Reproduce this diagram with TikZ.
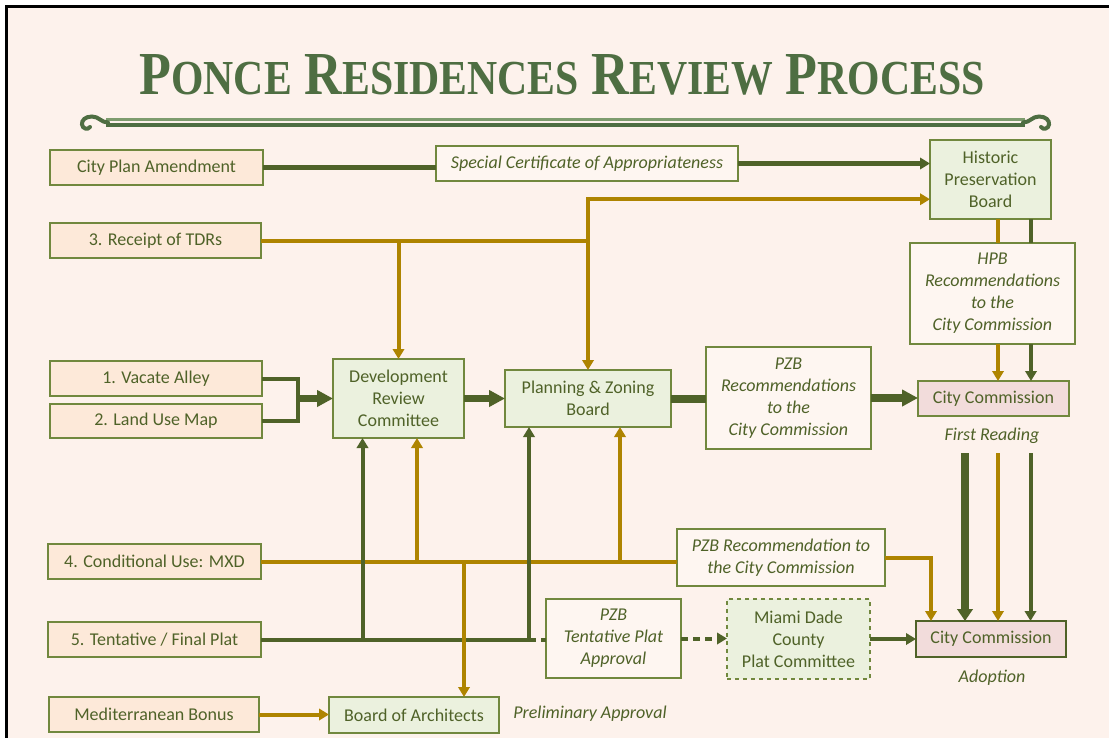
\documentclass[tikz,border=0pt]{standalone}
\usepackage{fontspec}
\usepackage{graphicx}
\setmainfont{Carlito}
\newfontfamily\titlefont{Liberation Serif}
\usetikzlibrary{arrows.meta,calc}
\definecolor{bg}{HTML}{FDF2EC}
\definecolor{dkgreen}{HTML}{4F6228}
\definecolor{gold}{HTML}{AE8400}
\definecolor{txt}{HTML}{4F6228}
\definecolor{bord}{HTML}{71883E}
\definecolor{beige}{HTML}{FDE9D9}
\definecolor{lgreen}{HTML}{EBF1DE}
\definecolor{pink}{HTML}{F2DCDB}
\definecolor{lbox}{HTML}{FEF6F1}
\definecolor{titlegreen}{HTML}{4E6E42}
\definecolor{ornlight}{HTML}{7E9C6E}
\newcommand{\bigL}[1]{{\fontsize{45}{45}\selectfont #1}}
\newcommand{\smL}[1]{{\fontsize{36}{36}\selectfont #1}}
\newcommand{\wsp}{\hspace{11pt}}
\begin{document}
\begin{tikzpicture}[x=0.75pt,y=-0.75pt,
  base/.style={draw=bord, line width=1.1pt, inner sep=0pt, outer sep=0pt, align=center,
    text=txt, font=\fontsize{13.5}{16.5}\selectfont},
  inbox/.style={base, fill=beige},
  gbox/.style={base, fill=lgreen},
  pbox/.style={base, fill=pink},
  ibox/.style={base, fill=lbox, font=\fontsize{13.5}{16.5}\selectfont\itshape},
  lbl/.style={inner sep=0pt, text=txt, font=\fontsize{13.5}{16.5}\selectfont\itshape},
  gl/.style={draw=gold, line width=3pt},
  gr/.style={draw=dkgreen, line width=3pt},
  tip/.style={-{Triangle[length=7.5pt,width=8.5pt]}},
  bigtip/.style={-{Triangle[length=12pt,width=12pt]}},
  midtip/.style={-{Triangle[length=9pt,width=11.5pt]}},
  dashline/.style={dash pattern=on 5.25pt off 3.75pt},
  orn/.style={titlegreen, line width=3pt, line cap=round}
]
\useasboundingbox (0,0) rectangle (1109,738);
\begin{scope}
\clip (0,0) rectangle (1109,738);
\fill[white] (0,0) rectangle (1109,738);
\fill[bg] (6.5,6.5) rectangle (1125,760);
\draw[black, line width=2.25pt] (6.5,6.5) rectangle (1125,760);
\end{scope}

% title
\node[anchor=base, inner sep=0pt, text=titlegreen] (title) at (562,95)
 {\resizebox{633.75pt}{30pt}{\titlefont\bfseries\bigL{P}\smL{ONCE}\wsp\bigL{R}\smL{ESIDENCES}\wsp\bigL{R}\smL{EVIEW}\wsp\bigL{P}\smL{ROCESS}}};

% ornament
\draw[ornlight, line width=2.4pt] (106,119.5) -- (1025,119.5);
\draw[titlegreen, line width=3pt] (106,125.5) -- (1025,125.5);
\draw[orn]
  (108,122.5) .. controls (101,122.5) and (99,116.5) .. (92,116.5)
  .. controls (85,116.5) and (81.5,120.5) .. (82,124.5)
  .. controls (82.5,129) and (88,130) .. (90,127);
\draw[orn]
  (1023,122.5) .. controls (1030,122.5) and (1032,116.5) .. (1039,116.5)
  .. controls (1046,116.5) and (1049.5,120.5) .. (1049,124.5)
  .. controls (1048.5,129) and (1043,130) .. (1041,127);

% boxes
\node[inbox, minimum width=159.75pt, minimum height=26.25pt] (cpa) at (156.5,167.5) {City Plan Amendment};
\node[inbox, minimum width=158.25pt, minimum height=26.25pt] (tdr) at (155.5,240.5) {3. Receipt of TDRs};
\node[inbox, minimum width=159pt, minimum height=26.25pt] (va) at (156,378.5) {1. Vacate Alley};
\node[inbox, minimum width=159pt, minimum height=25.5pt] (lum) at (156,421) {2. Land Use Map};
\node[inbox, minimum width=159.75pt, minimum height=26.25pt] (cu) at (154.5,561.5) {4. Conditional Use: MXD};
\node[inbox, minimum width=159.75pt, minimum height=26.25pt] (tfp) at (154.5,639.5) {5. Tentative / Final Plat};
\node[inbox, minimum width=157.5pt, minimum height=26.25pt] (mb) at (154,714.5) {Mediterranean Bonus};

\node[gbox, minimum width=98.25pt, minimum height=59.25pt] (drc) at (398.5,398.5) {Development\\Review\\Committee};
\node[gbox, minimum width=124.5pt, minimum height=42.75pt] (pzb) at (588,398.5) {Planning \& Zoning\\Board};
\node[ibox, minimum width=226.5pt, minimum height=26.25pt] (scoa) at (587,163.5) {Special Certificate of Appropriateness};
\node[gbox, minimum width=90.75pt, minimum height=59.25pt] (hpb) at (990.5,179.5) {Historic\\Preservation\\Board};
\node[ibox, minimum width=123.75pt, minimum height=75.75pt] (hpbrec) at (992.5,293.5) {HPB\\Recommendations\\to the\\City Commission};
\node[ibox, minimum width=123.75pt, minimum height=76.5pt] (pzbrec) at (788.5,398) {PZB\\Recommendations\\to the\\City Commission};
\node[pbox, minimum width=113.25pt, minimum height=26.25pt] (cc1) at (993.5,398.5) {City Commission};
\node[ibox, minimum width=156pt, minimum height=42.75pt] (pzbrec2) at (781,557.5) {PZB Recommendation to\\the City Commission};
\node[ibox, minimum width=101.25pt, minimum height=59.25pt] (pzbtent) at (613.5,638.5) {PZB\\Tentative Plat\\Approval};
\node[gbox, dashed, minimum width=107.25pt, minimum height=60pt] (mdc) at (798.5,639) {Miami Dade\\County\\Plat Committee};
\node[pbox, draw=dkgreen, line width=2.2pt, minimum width=112.5pt, minimum height=27pt] (cc2) at (991,639) {City Commission};
\node[gbox, minimum width=127.5pt, minimum height=27pt] (boa) at (414,715) {Board of Architects};

\node[lbl] (fr) at (992,436) {First Reading};
\node[lbl] (ad) at (992,678) {Adoption};
\node[lbl] (pa) at (590,714) {Preliminary Approval};

% helper coordinates
\coordinate (hpbin) at ($(hpb.south west)!0.25!(hpb.north west)$);
\coordinate (mg) at (298,398.5);
\coordinate (ha) at (998,0);
\coordinate (hb) at (1031,0);
\coordinate (fa) at (965,453);
\coordinate (fb) at (998,453);
\coordinate (fc) at (1030.5,453);
\coordinate (u1) at (417,561.5);
\coordinate (u2) at (620,561.5);
\coordinate (u3) at (464,561.5);
\coordinate (v1) at (362.5,639.5);
\coordinate (v2) at (529,639.5);
\coordinate (cin) at ($(cc2.north west)+(15,0)$);

% City plan / SCOA
\draw[gr, line width=3.4pt] (cpa.east) -- (cpa.east -| scoa.west);
\draw[gr, line width=3.4pt, tip] (scoa.east) -- (scoa.east -| hpb.west);

% TDRs
\draw[gl, tip] (tdr.east) -| (drc.north);
\draw[gl, tip] (tdr.east) -| (pzb.north);
\draw[gl, tip] (pzb.north |- tdr.east) |- (hpbin);

% merge into DRC
\draw[gr] (va.east) -| (mg);
\draw[gr] (lum.east) -| (mg);
\draw[gr, line width=5.25pt, bigtip] (mg) -- (drc.west);
\draw[gr, line width=5.25pt, bigtip] (drc.east) -- (pzb.west);
\draw[gr, line width=6pt] (pzb.east) -- (pzb.east -| pzbrec.west);
\draw[gr, line width=6pt, bigtip] (pzbrec.east) -- (pzbrec.east -| cc1.west);

% HPB
\draw[gl] (ha |- hpb.south) -- (ha |- hpbrec.north);
\draw[gr] (hb |- hpb.south) -- (hb |- hpbrec.north);
\draw[gl, tip] (ha |- hpbrec.south) -- (ha |- cc1.north);
\draw[gr, tip] (hb |- hpbrec.south) -- (hb |- cc1.north);

% first reading -> adoption
\draw[gr, line width=6pt, midtip] (fa) -- (fa |- cc2.north);
\draw[gl, tip] (fb) -- (fb |- cc2.north);
\draw[gr, tip] (fc) -- (fc |- cc2.north);

% conditional use
\draw[gl] (cu.east) -- (cu.east -| pzbrec2.west);
\draw[gl, tip] (pzbrec2.east) -| (cin);
\draw[gl, tip] (u1) -- (u1 |- drc.south);
\draw[gl, tip] (u2) -- (u2 |- pzb.south);

% tentative / final plat
\draw[gr] (tfp.east) -- (v2);
\draw[gr, tip] (v1) -- (v1 |- drc.south);
\draw[gr, tip] (v2) -- (v2 |- pzb.south);
\draw[gr, dashline] (v2) -- (v2 -| pzbtent.west);
\draw[gr, dashline, tip] (pzbtent.east) -- (pzbtent.east -| mdc.west);
\draw[gr, tip] (mdc.east) -- (mdc.east -| cc2.west);

% gold down to BoA
\draw[gl, tip] (u3) -- (u3 |- boa.north);

% Mediterranean
\draw[gl, tip] (mb.east) -- (mb.east -| boa.west);
\end{tikzpicture}
\end{document}
